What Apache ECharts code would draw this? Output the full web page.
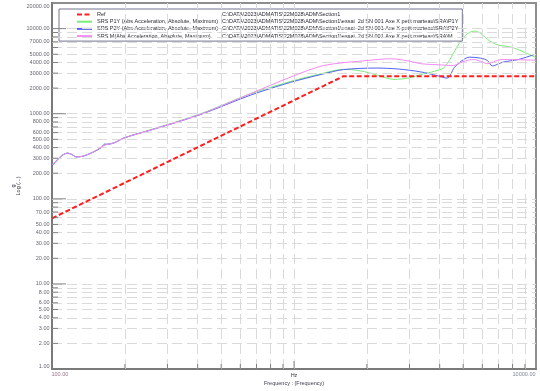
<!DOCTYPE html>
<html>
<head>
<meta charset="utf-8">
<script src="https://cdn.jsdelivr.net/npm/echarts@6/dist/echarts.min.js"></script>
<style>
  html, body { margin: 0; padding: 0; background: #ffffff; }
  #chart { width: 540px; height: 391px; }
</style>
</head>
<body>
<div id="chart"></div>
<script>
// Reference profile (Hz, g)
const refFreq = [100, 1600, 10000];
const refG    = [59, 2760, 2760];

// SRS P1Y
const p1yFreq = [100, 104, 110, 116, 121, 126, 135, 150, 163, 170, 180, 200, 255, 410, 660, 970, 1300, 1600, 1880, 2200, 2590, 3000, 3340, 3800, 4150, 4400, 4700, 5000, 5300, 5560, 5900, 6300, 6600, 7000, 7900, 8950, 10000];
const p1yG    = [250, 280, 325, 345, 332, 312, 318, 362, 420, 440, 455, 525, 648, 995, 1710, 2400, 2960, 3320, 3190, 2850, 2530, 2640, 2880, 3150, 3450, 4300, 6000, 7800, 9000, 9350, 8800, 7500, 6850, 6400, 6050, 5280, 4550];

// SRS P2Y
const p2yFreq = [100, 104, 110, 116, 121, 126, 135, 150, 160, 165, 170, 180, 200, 255, 410, 660, 970, 1300, 1600, 2200, 2700, 3340, 3900, 4300, 4600, 5000, 5300, 5900, 6300, 6600, 7300, 8450, 10000];
const p2yG    = [245, 275, 322, 343, 330, 310, 318, 360, 400, 440, 438, 452, 522, 640, 975, 1650, 2340, 2900, 3300, 3440, 3350, 3100, 2800, 2620, 3500, 4300, 4620, 4500, 4220, 3640, 4040, 4330, 5040];

// SRS M
const mFreq = [100, 104, 110, 116, 121, 126, 135, 150, 163, 170, 180, 200, 255, 410, 660, 970, 1330, 2010, 2510, 3000, 3340, 4000, 4560, 5000, 5530, 6000, 6300, 6800, 7300, 10000];
const mG    = [250, 278, 324, 345, 331, 311, 318, 361, 420, 438, 452, 524, 642, 985, 1720, 2700, 3690, 4220, 4420, 4150, 3870, 3750, 3690, 4100, 4340, 4050, 3870, 4150, 4340, 4250];

// Axis ranges and tick labels
const X_MIN = 100, X_MAX = 10000;
const Y_MIN = 1, Y_MAX = 20000;
const yLabelValues = [1, 2, 3, 4, 5, 6, 8, 10, 20, 30, 40, 50, 70, 100, 200, 300, 400, 500, 600, 800, 1000, 2000, 3000, 4000, 5000, 7000, 10000, 20000];
const xLabelValues = [100, 10000];
const decadeStarts = [1, 10, 100, 1000, 10000];
const multipliers = [1, 2, 3, 4, 5, 6, 7, 8, 9];

const seriesNames = [
  'Ref',
  'SRS P1Y (Abs Acceleration, Absolute, Maximum)',
  'SRS P2Y (Abs Acceleration, Absolute, Maximum)',
  'SRS M(Abs Acceleration, Absolute, Maximum)'
];
const sourcePaths = [
  'C:\\DATA\\2023\\ADMATIS\\22M028\\ADM\\Section1',
  'C:\\DATA\\2023\\ADMATIS\\22M028\\ADM\\Section1\\essai  2d SN 001 Axe X petit marteau\\SRA\\P1Y',
  'C:\\DATA\\2023\\ADMATIS\\22M028\\ADM\\Section1\\essai  2d SN 001 Axe X petit marteau\\SRA\\P2Y',
  'C:\\DATA\\2023\\ADMATIS\\22M028\\ADM\\Section1\\essai  2d SN 001 Axe X petit marteau\\SRA\\M'
];
const seriesColors = ['#ff1e1e', '#7aec7a', '#5262f2', '#f48af4'];

const FONT = '"Liberation Sans", Arial, sans-serif';
const TEXT = '#3a3a48';
const zip = (xs, ys) => xs.map((x, i) => [x, ys[i]]);

// log-paper values: every integer multiple inside each decade
const yAllTicks = [];
decadeStarts.forEach(d => multipliers.forEach(m => { const v = d * m; if (v > Y_MIN && v < Y_MAX) yAllTicks.push(v); }));
const xAllTicks = [];
decadeStarts.forEach(d => multipliers.forEach(m => { const v = d * m; if (v > X_MIN && v < X_MAX) xAllTicks.push(v); }));
const isDecade = v => Math.abs(Math.log10(v) - Math.round(Math.log10(v))) < 1e-9;

const chart = echarts.init(document.getElementById('chart'), null, { renderer: 'canvas' });

const lineSeries = [
  { name: seriesNames[0], data: zip(refFreq, refG), color: seriesColors[0], width: 2, type: [5, 2.5], smooth: false, z: 6 },
  { name: seriesNames[1], data: zip(p1yFreq, p1yG), color: seriesColors[1], width: 1, type: 'solid', smooth: 0.3, z: 3 },
  { name: seriesNames[2], data: zip(p2yFreq, p2yG), color: seriesColors[2], width: 1, type: 'solid', smooth: 0.3, z: 4 },
  { name: seriesNames[3], data: zip(mFreq, mG), color: seriesColors[3], width: 1, type: 'solid', smooth: 0.3, z: 5 }
].map(s => ({
  type: 'line',
  name: s.name,
  data: s.data,
  smooth: s.smooth,
  symbol: 'none',
  showSymbol: false,
  z: s.z,
  color: s.color,
  lineStyle: { color: s.color, width: s.width, type: s.type },
  emphasis: { disabled: true }
}));

const option = {
  animation: false,
  backgroundColor: '#ffffff',
  textStyle: { fontFamily: FONT },
  grid: {
    left: 52, right: 4, top: 3, bottom: 15,
    show: true, borderColor: '#8e8e8e', borderWidth: 2, backgroundColor: '#ffffff'
  },
  xAxis: {
    type: 'log', logBase: 10, min: X_MIN, max: X_MAX,
    axisLine: { show: true, onZero: false, lineStyle: { color: '#7a7a7a', width: 2 } },
    axisTick: { show: false }, axisLabel: { show: false }, splitLine: { show: false },
    name: '{u|Hz}\n{t|Frequency : (Frequency)}',
    nameLocation: 'middle', nameGap: 2,
    nameTextStyle: {
      fontFamily: FONT, color: TEXT, verticalAlign: 'top',
      rich: {
        u: { fontSize: 5.5, lineHeight: 8, color: TEXT, fontFamily: FONT },
        t: { fontSize: 5.5, lineHeight: 8, color: TEXT, fontFamily: FONT }
      }
    }
  },
  yAxis: {
    type: 'log', logBase: 10, min: Y_MIN, max: Y_MAX,
    axisLine: { show: true, onZero: false, lineStyle: { color: '#7a7a7a', width: 2 } },
    axisTick: { show: false }, axisLabel: { show: false }, splitLine: { show: false },
    name: 'g\nLog (...)',
    nameLocation: 'middle', nameRotate: 90, nameGap: 31,
    nameTextStyle: { fontFamily: FONT, fontSize: 5.5, lineHeight: 5, color: TEXT }
  },
  legend: {
    data: seriesNames,
    orient: 'vertical',
    left: 59, top: 9,
    padding: [2, 4, 1.5, 17],
    itemWidth: 15, itemHeight: 7, itemGap: 0.2,
    itemStyle: { opacity: 0 },
    backgroundColor: '#ffffff',
    borderColor: '#72728e', borderWidth: 1,
    selectedMode: false,
    textStyle: {
      fontFamily: FONT, fontSize: 5.5, color: '#2a2a34', lineHeight: 7,
      rich: {
        n: { width: 125, fontSize: 5.5, fontFamily: FONT, color: '#2a2a34' },
        p: { fontSize: 5.5, fontFamily: FONT, color: '#2a2a34' }
      }
    },
    formatter: name => '{n|' + name + '}{p|' + sourcePaths[seriesNames.indexOf(name)] + '}'
  },
  graphic: seriesNames.map((n, i) => ({
    type: 'group', left: 62, top: 12.5 + i * 7.2, z: 100,
    children: [
      { type: 'rect', shape: { x: 0, y: 0.5, width: 4, height: 4 }, style: { fill: '#ffffff', stroke: '#50505a', lineWidth: 0.7 } },
      { type: 'text', x: 7.5, y: 0, style: { text: 'F', font: '5.5px ' + FONT, fill: '#2a2a34' } }
    ]
  })),
  series: [
    // dashed log-paper grid
    {
      type: 'line', data: [[X_MIN, Y_MIN]], symbol: 'none', silent: true,
      lineStyle: { opacity: 0 }, z: 1,
      markLine: {
        silent: true, symbol: ['none', 'none'], animation: false,
        label: { show: false },
        lineStyle: { color: '#dadada', width: 1, type: [10, 5] },
        emphasis: { disabled: true },
        data: yAllTicks.map(v => ({ yAxis: v })).concat(xAllTicks.map(v => ({ xAxis: v })))
      }
    },
    // y-axis tick marks
    {
      type: 'scatter', silent: true, clip: false, z: 7, symbol: 'rect',
      itemStyle: { color: '#6a6a6a' },
      data: yAllTicks.map(v => ({
        value: [X_MIN, v],
        symbolSize: isDecade(v) ? [14, 1] : [6, 1],
        symbolOffset: isDecade(v) ? [7, 0] : [3, 0]
      }))
    },
    // x-axis tick marks
    {
      type: 'scatter', silent: true, clip: false, z: 7, symbol: 'rect',
      itemStyle: { color: '#6a6a6a' },
      data: xAllTicks.map(v => ({
        value: [v, Y_MIN],
        symbolSize: isDecade(v) ? [1, 8] : [1, 5],
        symbolOffset: isDecade(v) ? [0, -4] : [0, -2.5]
      }))
    },
    // y-axis tick labels
    {
      type: 'scatter', silent: true, clip: false, z: 8, symbol: 'circle', symbolSize: 1,
      itemStyle: { color: 'rgba(0,0,0,0)' },
      label: {
        show: true, position: 'left', distance: 2,
        fontFamily: FONT, fontSize: 5.5, color: TEXT,
        formatter: p => p.value[1].toFixed(2)
      },
      data: yLabelValues.map(v => {
        const item = { value: [X_MIN, v] };
        if (v === Y_MIN) item.label = { offset: [0, -3] };
        if (v === Y_MAX) item.label = { offset: [0, 3] };
        return item;
      })
    },
    // x-axis end labels
    {
      type: 'scatter', silent: true, clip: false, z: 8, symbol: 'circle', symbolSize: 1,
      itemStyle: { color: 'rgba(0,0,0,0)' },
      label: {
        show: true, position: [0, 3], verticalAlign: 'top',
        fontFamily: FONT, fontSize: 5.5, color: '#5a4a6a',
        formatter: p => p.value[0].toFixed(2)
      },
      data: xLabelValues.map(v => ({
        value: [v, Y_MIN],
        label: { align: v === X_MIN ? 'left' : 'right', color: v === X_MIN ? '#7a4a64' : '#5a6478' }
      }))
    }
  ].concat(lineSeries)
};

chart.setOption(option);
</script>
</body>
</html>
